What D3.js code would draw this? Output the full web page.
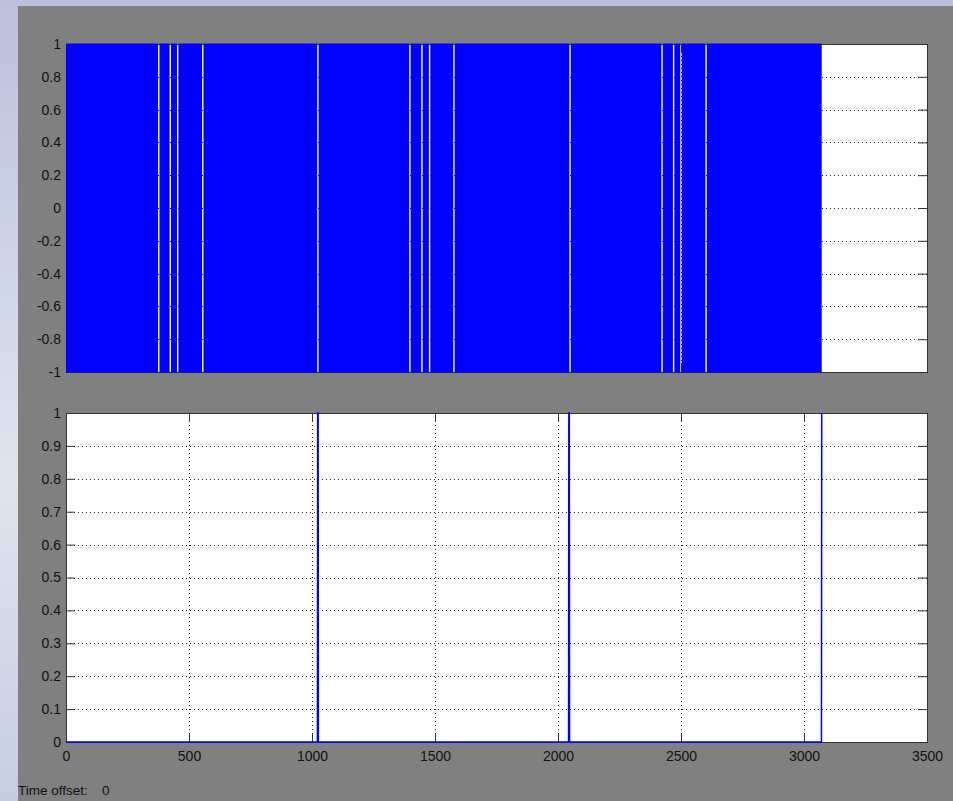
<!DOCTYPE html>
<html>
<head>
<meta charset="utf-8">
<script src="https://cdn.jsdelivr.net/npm/d3@7"></script>
<style>
  html, body { margin: 0; padding: 0; background: #c4c8df; }
  svg { display: block; }
  text { font-family: "Liberation Sans", Arial, sans-serif; }
</style>
</head>
<body>
<div id="chart"></div>
<script>
// scope screen: top = busy +/-1 signal, bottom = pulse train

const xTicks = [0, 500, 1000, 1500, 2000, 2500, 3000, 3500];
const topYTicks = [-1, -0.8, -0.6, -0.4, -0.2, 0, 0.2, 0.4, 0.6, 0.8, 1];
const bottomYTicks = [0, 0.1, 0.2, 0.3, 0.4, 0.5, 0.6, 0.7, 0.8, 0.9, 1];

// top signal: filled solid up to signalEnd, except thin gaps where it holds still
const signalEnd = 3072;
const gapPositions = [377, 424, 454, 556, 1024, 1398, 1447, 1478, 1577, 2049, 2423, 2470, 2500, 2602];

// bottom signal: zero with pulses
const pulseX = [0, 1022, 1023, 1025, 1026, 2043, 2044, 2046, 2047, 3071, 3072];
const pulseY = [0, 0, 1, 1, 0, 0, 1, 1, 0, 0, 1];

const width = 953, height = 801;
const svg = d3.select("#chart").append("svg")
    .attr("width", width)
    .attr("height", height);

// desktop wallpaper peeking out at the left/top edges
const defs = svg.append("defs");
const grad = defs.append("linearGradient").attr("id", "wall")
    .attr("x1", 0).attr("y1", 0).attr("x2", 0).attr("y2", 1);
grad.append("stop").attr("offset", "0%").attr("stop-color", "#bcc0dc");
grad.append("stop").attr("offset", "35%").attr("stop-color", "#cfd6e6");
grad.append("stop").attr("offset", "60%").attr("stop-color", "#dfe5ee");
grad.append("stop").attr("offset", "100%").attr("stop-color", "#c6cde0");
svg.append("rect").attr("width", width).attr("height", height).attr("fill", "url(#wall)");

// figure window
svg.append("rect")
    .attr("x", 18).attr("y", 6)
    .attr("width", width - 18).attr("height", height - 6)
    .attr("fill", "#808080");

const x = d3.scaleLinear().domain([0, 3500]).range([66, 927]);
const yTop = d3.scaleLinear().domain([-1, 1]).range([372, 44]);
const yBot = d3.scaleLinear().domain([0, 1]).range([742, 413]);

const fmt = d => String(+d.toFixed(1));

function drawPanel(y, yTicks, showXLabels) {
    const g = svg.append("g");
    const [x0, x1] = x.range();
    const [yb, yt] = y.range();

    g.append("rect")
        .attr("x", x0).attr("y", yt)
        .attr("width", x1 - x0).attr("height", yb - yt)
        .attr("fill", "#fff");

    // dotted grid
    g.selectAll(".hgrid")
        .data(yTicks.filter(d => d !== y.domain()[0] && d !== y.domain()[1]))
        .enter().append("line")
        .attr("x1", x0).attr("x2", x1)
        .attr("y1", d => Math.round(y(d)) + 0.5).attr("y2", d => Math.round(y(d)) + 0.5)
        .attr("stroke", "#222").attr("stroke-dasharray", "1 3");
    g.selectAll(".vgrid")
        .data(xTicks.filter(d => d !== 0 && d !== 3500))
        .enter().append("line")
        .attr("y1", yt).attr("y2", yb)
        .attr("x1", d => Math.round(x(d)) + 0.5).attr("x2", d => Math.round(x(d)) + 0.5)
        .attr("stroke", "#222").attr("stroke-dasharray", "1 3");

    // ticks inward on all four sides
    const tickLen = 9;
    const bottomAxis = d3.axisBottom(x).tickValues(xTicks).tickSize(-tickLen).tickPadding(9)
        .tickFormat(showXLabels ? d => d : "");
    const topAxis = d3.axisTop(x).tickValues(xTicks).tickSize(-tickLen).tickFormat("");
    const leftAxis = d3.axisLeft(y).tickValues(yTicks).tickSize(-tickLen).tickPadding(5).tickFormat(fmt);
    const rightAxis = d3.axisRight(y).tickValues(yTicks).tickSize(-tickLen).tickFormat("");

    const axes = [
        [bottomAxis, `translate(0,${Math.round(yb)})`],
        [topAxis, `translate(0,${Math.round(yt)})`],
        [leftAxis, `translate(${Math.round(x0)},0)`],
        [rightAxis, `translate(${Math.round(x1)},0)`]
    ];
    axes.forEach(([ax, tr]) => {
        const a = g.append("g").attr("transform", tr).call(ax);
        a.select(".domain").attr("stroke", "#333");
        a.selectAll(".tick line").attr("stroke", "#333");
        a.selectAll(".tick text")
            .attr("fill", "#111")
            .style("font-size", "14px")
            .style("font-family", "'Liberation Sans', Arial, sans-serif");
    });
    return g;
}

// ---- top panel ----
const topG = drawPanel(yTop, topYTicks, false);
const gapW = 1.4;
const gapPx = gapPositions.map(d => x(d));
const segStarts = [x(0)].concat(gapPx.map(p => p + gapW / 2));
const segEnds = gapPx.map(p => p - gapW / 2).concat([x(signalEnd)]);
topG.selectAll(".seg")
    .data(d3.zip(segStarts, segEnds))
    .enter().append("rect")
    .attr("x", d => d[0])
    .attr("width", d => d[1] - d[0])
    .attr("y", yTop(1) - 0.5)
    .attr("height", yTop(-1) - yTop(1) + 1)
    .attr("fill", "#0000ff");

// ---- bottom panel ----
const botG = drawPanel(yBot, bottomYTicks, true);
const line = d3.line().x(d => x(d[0])).y(d => yBot(d[1]));
botG.append("path")
    .datum(d3.zip(pulseX, pulseY))
    .attr("d", line)
    .attr("fill", "none")
    .attr("stroke", "#0000ff")
    .attr("stroke-width", 1.5);

svg.append("text")
    .attr("x", 18).attr("y", 795)
    .style("font-size", "13.5px")
    .attr("fill", "#111")
    .text("Time offset:");
svg.append("text")
    .attr("x", 102).attr("y", 795)
    .style("font-size", "13.5px")
    .attr("fill", "#111")
    .text("0");
</script>
</body>
</html>
